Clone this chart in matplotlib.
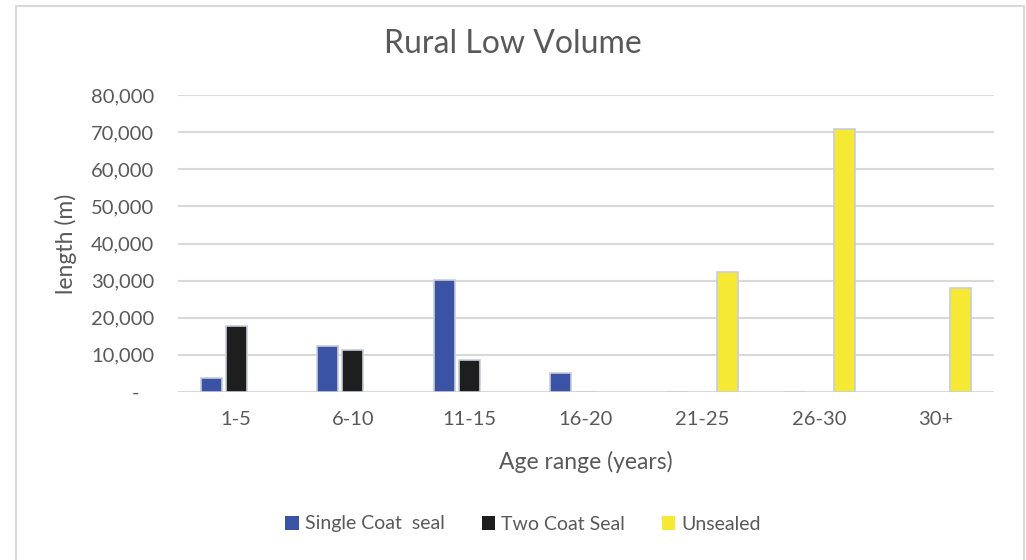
import numpy as np
import matplotlib.pyplot as plt
from matplotlib.patches import Rectangle
from matplotlib.ticker import FuncFormatter

plt.rcParams['font.family'] = ['Lato', 'DejaVu Sans']

ages = ["1-5", "6-10", "11-15", "16-20", "21-25", "26-30", "30+"]
# None = no entry for that age range, 0 = recorded as zero length
single_coat = [3700, 12500, 30100, 5100, 0, 0, None]
two_coat = [17900, 11200, 8500, 0, None, None, None]
unsealed = [None, None, None, None, 32200, 70900, 28100]

series = [
    ("Single Coat  seal", single_coat, "#3a53a4"),
    ("Two Coat Seal", two_coat, "#1e1e1e"),
    ("Unsealed", unsealed, "#f5e934"),
]

txt = "#595959"
grid = "#d9d9d9"

fig = plt.figure(figsize=(10.26, 5.6), dpi=100)
ax = fig.add_axes([178 / 1026, 1 - 392 / 560, (994 - 178) / 1026, 297 / 560])

x = np.arange(len(ages))
w = 0.18
step = 0.215
handles = []
for i, (name, vals, col) in enumerate(series):
    xs = [x[j] + (i - 1) * step for j, v in enumerate(vals) if v is not None]
    hs = [v for v in vals if v is not None]
    b = ax.bar(xs, hs, width=w, color=col, edgecolor="#c8cdda", linewidth=1.2,
               zorder=3, label=name)
    handles.append(b)

ax.set_ylim(0, 80000)
ax.set_xlim(-0.5, len(ages) - 0.5)
ax.set_yticks(np.arange(0, 80001, 10000))
ax.yaxis.set_major_formatter(FuncFormatter(lambda v, p: "-   " if v == 0 else f"{int(v):,}"))
ax.set_xticks(x)
ax.set_xticklabels(ages)
ax.grid(axis="y", color=grid, linewidth=1.5, zorder=0)
for s in ax.spines.values():
    s.set_visible(False)
ax.tick_params(length=0, labelsize=14.5, labelcolor=txt)
ax.tick_params(axis="y", pad=17)
ax.tick_params(axis="x", pad=14)

ax.set_ylabel("length (m)", fontsize=16.5, color=txt, labelpad=10)
ax.set_xlabel("Age range (years)", fontsize=16.5, color=txt, labelpad=16)
fig.text(0.5, 1 - 44 / 560, "Rural Low Volume", ha="center", va="center",
         fontsize=23, color=txt)

leg = fig.legend(handles=handles, loc="center", bbox_to_anchor=(523 / 1026, 1 - 524 / 560),
                 ncol=3, frameon=False, fontsize=14, handlelength=0.7, handleheight=0.7,
                 handletextpad=0.3, columnspacing=1.9, labelcolor=txt)
for h in leg.legend_handles:
    h.set_edgecolor("none")

# light chart border
fig.add_artist(Rectangle((16 / 1026, -0.1), (1024 - 16) / 1026, 1.1 - 6 / 560,
                         transform=fig.transFigure, fill=False,
                         edgecolor=grid, linewidth=1.5))

fig.savefig("out.png", dpi=100)
